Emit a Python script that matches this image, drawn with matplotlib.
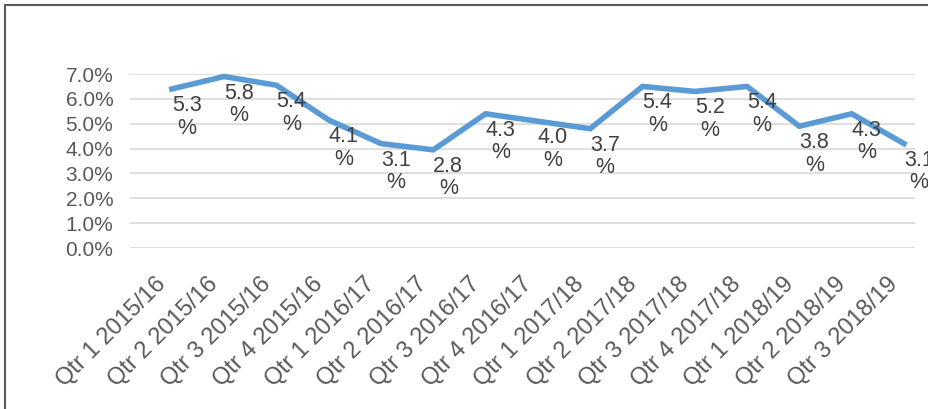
import matplotlib
matplotlib.use("Agg")
import matplotlib.pyplot as plt
import matplotlib.transforms as mtransforms
from matplotlib.ticker import FuncFormatter
from matplotlib.patches import Rectangle

plt.rcParams['font.family'] = ['Liberation Sans', 'DejaVu Sans']

quarters = ['Qtr 1 2015/16', 'Qtr 2 2015/16', 'Qtr 3 2015/16', 'Qtr 4 2015/16',
            'Qtr 1 2016/17', 'Qtr 2 2016/17', 'Qtr 3 2016/17', 'Qtr 4 2016/17',
            'Qtr 1 2017/18', 'Qtr 2 2017/18', 'Qtr 3 2017/18', 'Qtr 4 2017/18',
            'Qtr 1 2018/19', 'Qtr 2 2018/19', 'Qtr 3 2018/19']
# plotted line (as drawn)
line_vals = [6.4, 6.9, 6.55, 5.15, 4.2, 3.95, 5.4, 5.1, 4.8, 6.5, 6.3, 6.5, 4.9, 5.4, 4.2]
# data label text
label_vals = [5.3, 5.8, 5.4, 4.1, 3.1, 2.8, 4.3, 4.0, 3.7, 5.4, 5.2, 5.4, 3.8, 4.3, 3.1]

gray = '#595959'
fig = plt.figure(figsize=(9.29, 4.09), dpi=100)
ax = fig.add_axes([0.1399, 0.3936, 0.845, 0.4254])

x = list(range(len(quarters)))
ax.plot(x, line_vals, color='#5b9bd5', lw=4, solid_joinstyle='miter', clip_on=False, zorder=3)

for xi, yv, lv in zip(x, line_vals, label_vals):
    off = mtransforms.offset_copy(ax.transData, fig=fig, x=15, y=-6, units='dots')
    ax.text(xi, yv, f'{lv:.1f}\n%', transform=off, ha='center', va='top',
            fontsize=15.5, color='#404040', linespacing=1.1, zorder=4)

ax.set_ylim(0, 7)
ax.set_xlim(-0.8, 14.21)
ax.set_yticks(range(0, 8))
ax.yaxis.set_major_formatter(FuncFormatter(lambda v, p: f'{v:.1f}%'))
ax.grid(axis='y', color='#d9d9d9', lw=1.2)
ax.set_axisbelow(True)
for s in ax.spines.values():
    s.set_visible(False)
ax.tick_params(axis='y', length=0, pad=12, labelsize=15, labelcolor=gray)
ax.set_xticks(x)
ax.set_xticklabels(quarters, rotation=45, ha='right', rotation_mode='anchor',
                   fontsize=17, color=gray)
ax.tick_params(axis='x', length=0, pad=18)
shift = mtransforms.ScaledTranslation(-17 / 100, 0, fig.dpi_scale_trans)
for lab in ax.get_xticklabels():
    lab.set_transform(lab.get_transform() + shift)

fig.patches.append(Rectangle((5.5 / 929, -0.1), 1.2, 1.1 - 5.5 / 409,
                             transform=fig.transFigure, fill=False,
                             edgecolor='#595959', lw=1.5))

fig.savefig('out.png', dpi=100)
